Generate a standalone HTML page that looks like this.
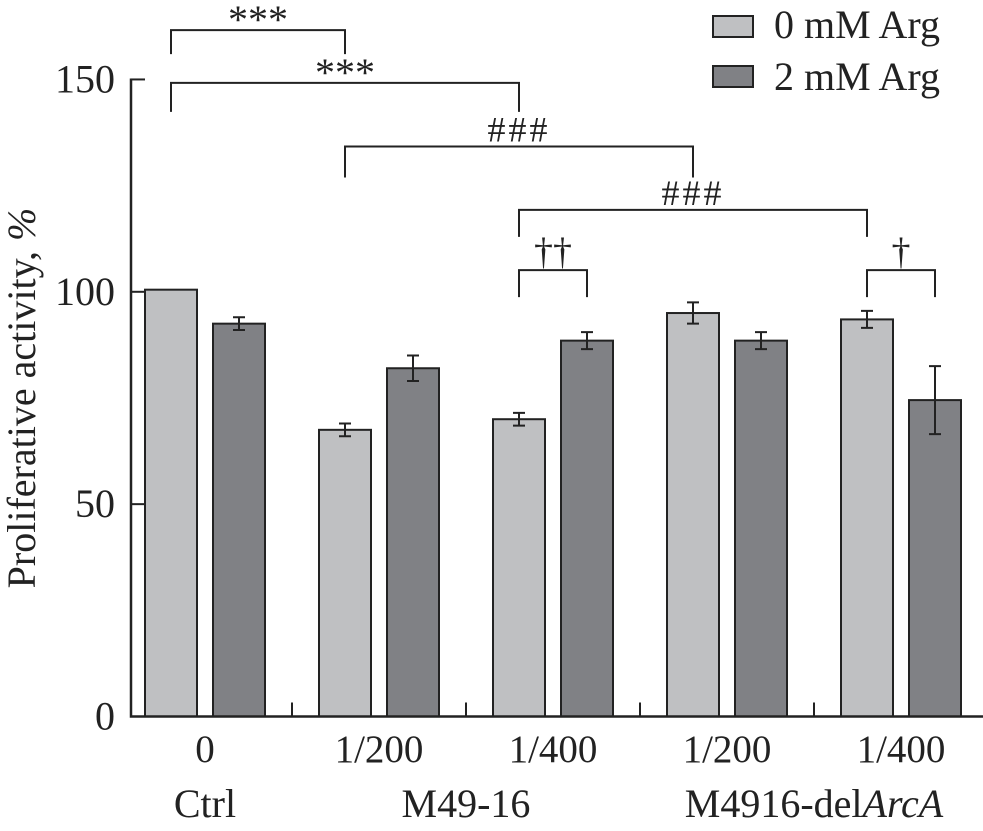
<!DOCTYPE html>
<html><head><meta charset="utf-8"><style>
body{margin:0;background:#fff}
svg{display:block;font-family:"Liberation Serif",serif}
</style></head><body>
<svg id="chart" width="983" height="831" viewBox="0 0 983 831" xmlns="http://www.w3.org/2000/svg">
<g id="marks"></g>
<g>
<rect x="713" y="16" width="40" height="21" fill="#bfc0c2" stroke="#222" stroke-width="2"/>
<text x="774" y="38" font-size="40" fill="#222">0 mM Arg</text>
<rect x="713" y="66" width="40" height="21" fill="#808185" stroke="#222" stroke-width="2"/>
<text x="774" y="90" font-size="40" fill="#222">2 mM Arg</text>
</g>
<text transform="translate(35,398) rotate(-90)" text-anchor="middle" font-size="40" fill="#222">Proliferative activity, <tspan font-style="italic">%</tspan></text>
<text x="205" y="817" text-anchor="middle" font-size="40" fill="#222">Ctrl</text>
<text x="466" y="817" text-anchor="middle" font-size="40" fill="#222">M49-16</text>
<text x="814" y="817" text-anchor="middle" font-size="40" fill="#222">M4916-del<tspan font-style="italic">ArcA</tspan></text>
</svg>
<script>
const categories = ["0","1/200","1/400","1/200","1/400"];
const arg0 = [100.5, 67.5, 70, 95, 93.5];
const arg0Err = [0, 1.5, 1.5, 2.5, 2];
const arg2 = [92.5, 82, 88.5, 88.5, 74.5];
const arg2Err = [1.5, 3, 2, 2, 8];
const yTicks = [0, 50, 100, 150];
const brackets = [
 {a:0, b:1, y:161.6, leg:24, label:"***"},
 {a:0, b:2, y:149.2, leg:29, label:"***"},
 {a:1, b:3, y:134.2, leg:31, label:"###"},
 {a:2, b:4, y:119.3, leg:27, label:"###"},
 {a:2, b:2, y:105.1, leg:27, label:"††", pair:true},
 {a:4, b:4, y:105.1, leg:27, label:"†", pair:true}
];
const NS="http://www.w3.org/2000/svg";
const g=document.getElementById('marks');
const X0=131, Y0=716.5, PX=4.247, GW=174, GX0=205;
const y=v=>Y0-v*PX;
const gx=i=>GX0+i*GW;
function el(t,attrs){const e=document.createElementNS(NS,t);for(const k in attrs)e.setAttribute(k,attrs[k]);g.appendChild(e);return e;}
const BW=52;
categories.forEach((c,i)=>{
 const cx=gx(i);
 const b1=el('rect',{x:cx-60,y:y(arg0[i]),width:BW,height:Y0-y(arg0[i]),fill:'#bfc0c2',stroke:'#222','stroke-width':2});
 
 
 const b2=el('rect',{x:cx+8,y:y(arg2[i]),width:BW,height:Y0-y(arg2[i]),fill:'#808185',stroke:'#222','stroke-width':2});
 
 
 [[cx-34,arg0[i],arg0Err[i]],[cx+34,arg2[i],arg2Err[i]]].forEach(([ex,v,e],k)=>{
  if(e<=0)return;
  const p=el('path',{d:`M${ex} ${y(v+e)}V${y(v-e)}M${ex-6} ${y(v+e)}H${ex+6}M${ex-6} ${y(v-e)}H${ex+6}`,stroke:'#222','stroke-width':2,fill:'none'});
  
  
 });
 const t=el('text',{x:cx,y:762,'text-anchor':'middle','font-size':39,fill:'#222'});
 t.textContent=c;
 
 
 const tk=el('line',{x1:cx+GW/2,x2:cx+GW/2,y1:Y0,y2:Y0-14,stroke:'#222','stroke-width':2});
 
 
});
const ax=el('path',{d:`M${X0} ${y(150)-1}V${Y0}H983`,stroke:'#222','stroke-width':2.5,fill:'none'});


yTicks.forEach(v=>{
 const l=el('line',{x1:X0,x2:X0+14,y1:y(v),y2:y(v),stroke:'#222','stroke-width':2});
 
 
 const t=el('text',{x:X0-16,y:y(v)+13,'text-anchor':'end','font-size':40,fill:'#222'});
 t.textContent=v;
 
 
});
brackets.forEach((br,i)=>{
 const xa=gx(br.a)-34, xb=br.pair?gx(br.b)+34:gx(br.b)-34;
 const yy=y(br.y);
 const p=el('path',{d:`M${xa} ${yy+br.leg}V${yy}H${xb}V${yy+br.leg}`,stroke:'#222','stroke-width':2,fill:'none'});
 
 
 const isStar=br.label[0]==='*', isHash=br.label[0]==='#';
 const t=el('text',{x:(xa+xb)/2,y:isStar?yy+3:(isHash?yy-5:yy-6),'text-anchor':'middle','font-size':isStar?40:(isHash?36:38),fill:'#222','letter-spacing':isHash?3:0});
 t.textContent=br.label;
 
 
});
</script>
</body></html>
